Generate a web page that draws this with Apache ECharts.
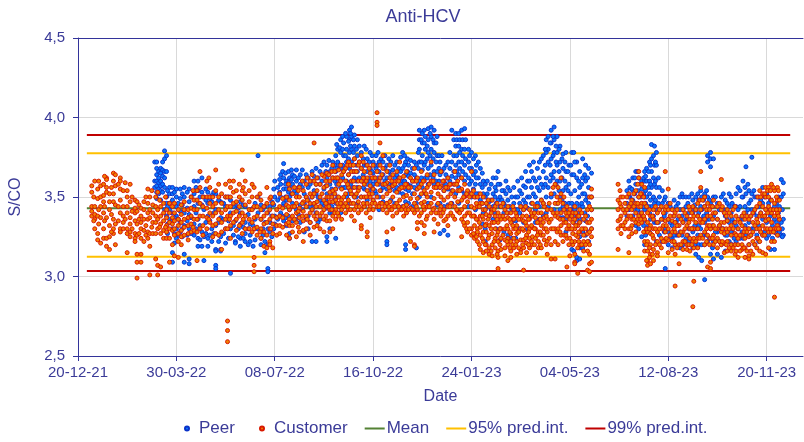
<!DOCTYPE html>
<html>
<head>
<meta charset="utf-8">
<script src="https://cdn.jsdelivr.net/npm/echarts@6/dist/echarts.min.js"></script>
<style>
  html, body { margin: 0; padding: 0; background: #fff; }
  #chart { width: 804px; height: 442px; }
</style>
</head>
<body>
<div id="chart"></div>
<script>
// x = days since 20-12-21, each row is [day, value, value, ...]
const tickDays = [0, 100, 200, 300, 400, 500, 600, 700];
const tickLabels = ['20-12-21', '30-03-22', '08-07-22', '16-10-22', '24-01-23', '04-05-23', '12-08-23', '20-11-23'];
const lineDays = [9, 724];
const meanValue = 3.43;
const pred95 = [3.125, 3.775];
const pred99 = [3.035, 3.89];

const peerColumns = [
  [78,3.72,3.56,3.6],[80,3.72,3.68,3.64,3.6,3.57,3.53,3.49],[82,3.66,3.62,3.59,3.55,3.52],[84,3.68,3.65,3.6,3.57,3.54,3.48],
  [86,3.72,3.67,3.63,3.58,3.53],[88,3.79,3.74,3.66,3.62,3.56,3.42],[90,3.76,3.66,3.5,3.46,3.38],[93,3.56,3.52,3.46,3.42,3.36],
  [96,3.56,3.52,3.48,3.4,3.35,3.3,3.15,3.09],[100,3.55,3.5,3.44,3.38,3.3,3.24],[104,3.55,3.49,3.41,3.34,3.28],[108,3.56,3.5,3.4,3.32,3.14,3.09],
  [113,3.55,3.47,3.39,3.3,3.11,3.08],[118,3.6,3.52,3.44,3.33,3.26],[122,3.6,3.54,3.46,3.36,3.24,3.19],[126,3.62,3.53,3.45,3.28,3.19],
  [128,3.5,3.42,3.25,3.1],[132,3.53,3.46,3.38,3.24,3.19],[136,3.51,3.47,3.3,3.22],[140,3.52,3.42,3.32,3.17,3.16,3.07,3.05],
  [145,3.47,3.37,3.25,3.17,3.16],[150,3.5,3.44,3.3,3.21],[155,3.48,3.4,3.3,3.02],[160,3.45,3.35,3.22,3.21],
  [165,3.47,3.4,3.33,3.24,3.19],[170,3.44,3.34,3.27,3.22],[175,3.42,3.33,3.26,3.22],[180,3.46,3.36,3.3,3.23],
  [183,3.76,3.5,3.4,3.3],[186,3.45,3.36,3.24,3.2],[190,3.44,3.34,3.22,3.15],[193,3.4,3.3,3.2,3.05,3.03],
  [197,3.47,3.38,3.25],[200,3.6,3.5,3.38,3.33],[203,3.56,3.48,3.36],[206,3.64,3.58,3.5,3.4],
  [209,3.71,3.62,3.55,3.46,3.35],[212,3.6,3.55,3.48,3.32],[215,3.62,3.56,3.5,3.42,3.27,3.24],[218,3.64,3.58,3.46,3.35],
  [222,3.67,3.6,3.52,3.42,3.36],[226,3.64,3.58,3.45,3.34],[230,3.6,3.52,3.46,3.28],[234,3.62,3.56,3.48,3.38,3.3],
  [238,3.66,3.6,3.5,3.42,3.22],[242,3.68,3.58,3.52,3.4,3.22],[246,3.66,3.58,3.48,3.36],[250,3.72,3.64,3.55,3.45],
  [253,3.7,3.62,3.52,3.43,3.25,3.22],[256,3.66,3.58,3.5,3.4,3.3],[259,3.72,3.62,3.52,3.4],[262,3.76,3.66,3.55,3.46,3.24],
  [264,3.8,3.72,3.62,3.5],[267,3.86,3.78,3.68,3.56,3.4],[270,3.84,3.76,3.66,3.56,3.45],[273,3.88,3.8,3.72,3.6,3.5],
  [276,3.92,3.86,3.78,3.68,3.55,3.46],[278,3.94,3.88,3.8,3.72,3.6,3.52],[281,3.89,3.82,3.74,3.62,3.5],[284,3.86,3.76,3.66,3.56,3.46],
  [288,3.78,3.68,3.6,3.5],[291,3.82,3.7,3.62,3.55,3.44],[294,3.74,3.66,3.58,3.48],[297,3.78,3.68,3.6,3.52],
  [300,3.72,3.65,3.58,3.48],[303,3.76,3.68,3.6,3.52],[306,3.72,3.66,3.58,3.5,3.42],[310,3.72,3.64,3.56,3.47],
  [314,3.7,3.62,3.55,3.46,3.22,3.2],[318,3.72,3.64,3.56,3.48],[322,3.7,3.62,3.54,3.46],[326,3.68,3.62,3.53,3.44],
  [330,3.78,3.68,3.6,3.52,3.44],[333,3.72,3.64,3.55,3.47,3.2,3.17],[336,3.7,3.63,3.54,3.46],[340,3.68,3.6,3.52,3.44],
  [344,3.7,3.62,3.55,3.46,3.18],[347,3.92,3.86,3.8,3.72,3.6,3.5],[350,3.9,3.84,3.76,3.67,3.56],[353,3.88,3.8,3.72,3.62,3.52],
  [356,3.93,3.86,3.78,3.68,3.58,3.46],[359,3.94,3.88,3.8,3.7,3.6,3.5],[362,3.92,3.84,3.78,3.66,3.58],[365,3.88,3.76,3.66,3.56,3.45],
  [368,3.72,3.64,3.56,3.46,3.27],[372,3.68,3.6,3.54,3.44,3.29],[376,3.72,3.62,3.55,3.45,3.26],[380,3.92,3.72,3.63,3.54,3.46],
  [384,3.9,3.82,3.7,3.62,3.52],[387,3.9,3.82,3.72,3.64,3.56,3.46],[390,3.92,3.8,3.72,3.62,3.54],[393,3.93,3.8,3.7,3.6,3.52],
  [397,3.8,3.72,3.62,3.53,3.44],[400,3.78,3.68,3.6,3.5],[404,3.76,3.66,3.58,3.5,3.42],[407,3.72,3.62,3.52,3.44],
  [411,3.65,3.56,3.46,3.33],[414,3.58,3.5,3.42,3.3,3.22],[418,3.55,3.47,3.38],[422,3.62,3.52,3.44,3.36],
  [425,3.62,3.54,3.46,3.3],[429,3.58,3.5,3.44,3.3,3.23],[433,3.54,3.46,3.4,3.28],[437,3.56,3.48,3.4,3.26,3.24],
  [441,3.5,3.42,3.34,3.24],[445,3.5,3.42,3.35,3.24],[449,3.54,3.46,3.4,3.3],[453,3.57,3.48,3.42,3.34],
  [457,3.6,3.5,3.43,3.3],[461,3.66,3.56,3.46,3.38],[465,3.6,3.5,3.42,3.34],[469,3.72,3.62,3.54,3.44,3.36],
  [473,3.76,3.66,3.56,3.46,3.38],[476,3.86,3.78,3.62,3.5,3.4],[478,3.88,3.8,3.72,3.56,3.44],[481,3.92,3.84,3.74,3.64,3.5],
  [484,3.94,3.86,3.78,3.66,3.52,3.42],[487,3.88,3.78,3.7,3.6,3.46],[490,3.82,3.72,3.6,3.5,3.42,3.37],[493,3.77,3.68,3.54,3.44,3.37],
  [496,3.78,3.66,3.56,3.42,3.36,3.28],[499,3.7,3.58,3.46,3.38,3.3],[502,3.78,3.64,3.46,3.38,3.17],[504,3.78,3.64,3.44,3.38,3.34,3.16],
  [507,3.72,3.62,3.46,3.36,3.32,3.1,3.12],[510,3.66,3.56,3.44,3.34,3.25,3.18,3.11],[513,3.74,3.62,3.52,3.44,3.28,3.18],[516,3.7,3.6,3.48,3.35,3.26],
  [519,3.68,3.56,3.46,3.28,3.22],[522,3.65,3.5,3.42,3.3],[558,3.54,3.46,3.38],[561,3.56,3.5,3.44],
  [564,3.62,3.54,3.48,3.38],[567,3.66,3.58,3.46,3.32],[570,3.62,3.5,3.44,3.3],[573,3.6,3.55,3.46,3.38,3.25],
  [576,3.66,3.6,3.5,3.42,3.35,3.2],[578,3.68,3.6,3.5,3.44,3.3],[581,3.72,3.6,3.52,3.4,3.28],[583,3.83,3.74,3.66,3.56,3.44],
  [586,3.82,3.7,3.58,3.46,3.34],[588,3.78,3.7,3.56,3.42,3.34,3.22],[591,3.56,3.5,3.42,3.26],[594,3.54,3.46,3.36,3.22],
  [597,3.5,3.4,3.3,3.05,3.23],[600,3.46,3.36,3.28,3.2],[604,3.42,3.32,3.24,3.18],[608,3.44,3.34,3.26,3.2],
  [612,3.5,3.42,3.28,3.18],[615,3.5,3.42,3.34,3.2],[618,3.5,3.44,3.36,3.24],[621,3.5,3.4,3.3,3.22],
  [625,3.48,3.4,3.28,3.18],[628,3.5,3.42,3.3,3.14],[631,3.48,3.4,3.32,3.2,3.12],[634,3.5,3.42,3.36,3.2,3.1],
  [637,3.52,3.44,3.34,3.2,2.98],[640,3.76,3.72,3.5,3.36,3.22],[643,3.78,3.74,3.69,3.46,3.3,3.14],[646,3.74,3.5,3.38,3.22,3.11],
  [650,3.46,3.36,3.28,3.14],[654,3.5,3.42,3.3,3.2,3.12],[658,3.48,3.38,3.26,3.16],[662,3.52,3.44,3.34,3.22],
  [665,3.46,3.36,3.28,3.2],[669,3.52,3.44,3.32,3.22],[673,3.54,3.44,3.36,3.24],[676,3.6,3.5,3.36,3.24],
  [679,3.69,3.52,3.4,3.26],[682,3.54,3.46,3.34,3.2],[685,3.75,3.52,3.42,3.3],[688,3.5,3.42,3.3,3.2],
  [692,3.5,3.44,3.32,3.22],[696,3.56,3.46,3.36,3.26],[700,3.52,3.42,3.34,3.24],[704,3.48,3.38,3.3,3.17],
  [708,3.44,3.36,3.28,3.17],[712,3.5,3.4,3.32,3.26],[715,3.61,3.5,3.34,3.26],[717,3.59,3.52,3.36,3.26],
  // second pass, the gaps between the rows above
  [91,3.54,3.44,3.33,3.27],[98,3.53,3.37,3.27,3.21],[102,3.46,3.36,3.26],[106,3.52,3.45,3.3,3.25],[111,3.53,3.43,3.35,3.26],[115,3.5,3.37,3.27],
  [120,3.56,3.4,3.3],[124,3.5,3.32,3.23],[130,3.55,3.48,3.34,3.27],[134,3.49,3.35,3.26],[138,3.53,3.4,3.27],[143,3.48,3.34,3.22],
  [148,3.46,3.36,3.27],[153,3.5,3.35,3.24],[158,3.44,3.32,3.26],[163,3.43,3.3,3.25],[168,3.45,3.31,3.24],[173,3.39,3.3,3.2],
  [178,3.43,3.32,3.19],[188,3.42,3.3,3.26],[195,3.44,3.34,3.28],[199,3.55,3.45,3.3],[205,3.61,3.53,3.38],[208,3.66,3.44,3.38],
  [211,3.65,3.58,3.5,3.37],[214,3.66,3.59,3.53,3.38],[217,3.67,3.61,3.52],[220,3.63,3.54,3.44],[224,3.62,3.56,3.39],[228,3.67,3.56,3.42],
  [232,3.64,3.5,3.36],[236,3.58,3.44,3.34],[240,3.63,3.54,3.45],[244,3.62,3.5,3.34],[248,3.7,3.6,3.46],[252,3.66,3.57,3.48],
  [255,3.73,3.64,3.46],[258,3.68,3.55,3.44],[261,3.7,3.6,3.48],[263,3.83,3.68,3.58],[266,3.81,3.7,3.6],[269,3.88,3.8,3.7,3.62],
  [272,3.9,3.76,3.68,3.56],[275,3.85,3.74,3.64,3.52],[277,3.9,3.82,3.7,3.58],[280,3.86,3.78,3.66,3.56],[283,3.8,3.7,3.6,3.5],[286,3.82,3.72,3.62],
  [290,3.74,3.64,3.56],[293,3.8,3.7,3.6],[296,3.72,3.62,3.54],[299,3.76,3.66,3.56],[302,3.7,3.62,3.54],[305,3.78,3.7,3.62],
  [308,3.74,3.62,3.54],[312,3.76,3.68,3.6],[316,3.74,3.66,3.58],[320,3.76,3.67,3.58],[324,3.72,3.64,3.56],[328,3.75,3.66,3.58],
  [332,3.76,3.7,3.6],[335,3.74,3.66,3.58],[338,3.73,3.65,3.57],[342,3.72,3.64,3.56],[346,3.78,3.68,3.58],[349,3.86,3.72,3.62],
  [352,3.92,3.84,3.7],[355,3.82,3.74,3.62],[358,3.9,3.76,3.64],[361,3.86,3.74,3.62],[364,3.84,3.72,3.6],[367,3.76,3.68,3.6],
  [370,3.76,3.66,3.57],[374,3.7,3.64,3.58],[378,3.78,3.68,3.6],[382,3.86,3.76,3.66,3.58],[385,3.86,3.76,3.66],[388,3.86,3.78,3.68],
  [391,3.86,3.76,3.66],[394,3.86,3.74,3.64],[398,3.76,3.68,3.58],[402,3.74,3.64,3.55],[405,3.7,3.62,3.52],[409,3.68,3.58,3.48],
  [412,3.6,3.52,3.4],[416,3.6,3.52,3.44],[420,3.58,3.48,3.42],[424,3.56,3.5,3.4],[427,3.66,3.58,3.48],[431,3.54,3.48,3.38],
  [435,3.6,3.52,3.44],[439,3.54,3.44,3.36],[443,3.56,3.46,3.36],[447,3.6,3.5,3.42],[451,3.62,3.52,3.44],[455,3.66,3.56,3.46],
  [459,3.7,3.6,3.5],[463,3.72,3.62,3.52],[467,3.68,3.56,3.46],[471,3.74,3.58,3.48],[475,3.8,3.7,3.58],[480,3.84,3.7,3.6],
  [483,3.88,3.76,3.62],[486,3.82,3.72,3.58],[489,3.8,3.66,3.54],[492,3.74,3.62,3.48],[495,3.72,3.6,3.46],[498,3.66,3.54,3.42],
  [501,3.7,3.52,3.42],[505,3.72,3.54,3.42],[509,3.6,3.5,3.4],[512,3.58,3.46,3.36],[515,3.64,3.52,3.4],[518,3.62,3.5,3.38],
  [560,3.6,3.5,3.42],[563,3.55,3.45],[566,3.62,3.52,3.42],[569,3.66,3.54,3.42],[572,3.58,3.5,3.4],[575,3.62,3.52,3.44,3.32],
  [577,3.63,3.54,3.46,3.26],[580,3.66,3.56,3.44,3.32],[582,3.7,3.58,3.48,3.36],[585,3.76,3.62,3.5,3.38],[587,3.72,3.6,3.48],[590,3.62,3.46,3.34],
  [596,3.48,3.38,3.28],[602,3.44,3.34,3.24],[606,3.48,3.38,3.26],[610,3.46,3.36,3.26],[614,3.52,3.38,3.26],[620,3.46,3.36,3.26],
  [624,3.52,3.42,3.3],[627,3.45,3.32,3.2],[630,3.52,3.38,3.26],[633,3.54,3.44,3.3],[636,3.48,3.38,3.26],[639,3.54,3.4,3.26],
  [642,3.48,3.36,3.24],[645,3.44,3.32,3.18],[648,3.5,3.4,3.28],[652,3.42,3.32,3.22],[656,3.52,3.42,3.3],[660,3.46,3.36,3.26],
  [664,3.5,3.4,3.28],[667,3.44,3.34,3.24],[671,3.56,3.42,3.3],[675,3.5,3.38,3.28],[678,3.56,3.44,3.32],[681,3.58,3.42,3.3],
  [684,3.48,3.38,3.26],[687,3.54,3.4,3.3],[690,3.5,3.38,3.26],[694,3.48,3.4,3.28],[698,3.5,3.38,3.28],[702,3.46,3.36,3.26],
  [706,3.42,3.32,3.24],[710,3.46,3.34,3.27],[713,3.44,3.36,3.28],[716,3.42,3.3,3.25]
];

const customerColumns = [
  [14,3.57,3.53,3.44,3.41,3.38],[17,3.6,3.44,3.39,3.36,3.3],[20,3.55,3.49,3.38,3.27,3.23],[23,3.57,3.5,3.44,3.37,3.21],
  [26,3.58,3.51,3.47,3.4,3.3,3.24],[29,3.62,3.61,3.56,3.53,3.37,3.24,3.19],[32,3.52,3.47,3.42,3.32,3.25,3.17],[36,3.65,3.6,3.52,3.47,3.36,3.3,3.27],
  [38,3.64,3.57,3.45,3.33,3.2],[43,3.62,3.6,3.55,3.48,3.4,3.3,3.28],[46,3.54,3.44,3.38,3.34,3.3],[50,3.54,3.5,3.44,3.4,3.3,3.27,3.15],
  [53,3.58,3.47,3.37,3.33,3.28,3.25],[58,3.48,3.43,3.4,3.35,3.27,3.24,3.22],[60,3.47,3.41,3.33,3.26,3.14,3.09,2.99],[64,3.43,3.38,3.34,3.3,3.24,3.14,3.09],
  [67,3.47,3.42,3.36,3.29,3.22],[71,3.55,3.46,3.4,3.36,3.28,3.24],[73,3.5,3.42,3.37,3.27,3.19,3.01],[76,3.45,3.4,3.34,3.27],
  [79,3.5,3.44,3.38,3.34,3.27,3.11],[81,3.53,3.42,3.36,3.3,3.07,3.01],[84,3.44,3.38,3.33,3.27,3.06],[87,3.46,3.4,3.35,3.29,3.24],
  [90,3.42,3.37,3.32,3.28,3.24],[93,3.46,3.4,3.34,3.3,3.24,3.09],[96,3.44,3.37,3.33,3.29,3.2],[98,3.46,3.4,3.35,3.3,3.26,3.13],
  [102,3.42,3.36,3.32,3.27,3.22,3.12],[105,3.45,3.39,3.34,3.29,3.25,3.2],[108,3.47,3.42,3.36,3.31,3.26],[112,3.42,3.37,3.32,3.27,3.23],
  [115,3.5,3.43,3.38,3.33,3.28],[118,3.48,3.42,3.36,3.29],[121,3.54,3.48,3.42,3.36,3.28,3.1],[124,3.66,3.56,3.46,3.38,3.3],
  [127,3.5,3.44,3.38,3.32,3.26],[131,3.6,3.5,3.43,3.37,3.3],[134,3.56,3.5,3.46,3.4,3.34],[137,3.5,3.44,3.38,3.32,3.25],
  [140,3.67,3.54,3.46,3.4,3.33,3.27],[143,3.58,3.5,3.42,3.36,3.26],[146,3.52,3.46,3.4,3.34,3.28,3.17],[150,3.58,3.5,3.42,3.36,3.3],
  [152,3.5,3.44,3.38,3.3,2.72,2.66,2.59],[155,3.56,3.5,3.44,3.38,3.32,3.24],[158,3.6,3.53,3.46,3.4,3.34],[161,3.54,3.47,3.41,3.36,3.29],
  [164,3.58,3.5,3.44,3.38,3.32],[167,3.67,3.54,3.48,3.4,3.34,3.27],[170,3.6,3.52,3.45,3.38,3.3],[174,3.54,3.47,3.42,3.36,3.3],
  [177,3.58,3.5,3.42,3.34,3.28],[179,3.56,3.44,3.37,3.3,3.12,3.07,3.03],[182,3.5,3.44,3.38,3.31,3.26],[186,3.48,3.42,3.36,3.3,3.24],
  [189,3.44,3.38,3.33,3.28,3.19],[192,3.56,3.46,3.4,3.34,3.26,3.18],[195,3.49,3.42,3.36,3.3,3.22,3.2],[198,3.46,3.38,3.33,3.27,3.18],
  [202,3.42,3.37,3.32,3.26],[205,3.52,3.44,3.38,3.32,3.27],[208,3.49,3.43,3.37,3.31],[212,3.5,3.45,3.39,3.33,3.26],
  [215,3.55,3.48,3.42,3.36,3.32,3.24],[218,3.52,3.44,3.38,3.32,3.28],[222,3.5,3.46,3.4,3.34,3.25],[225,3.56,3.5,3.43,3.37,3.28],
  [229,3.54,3.47,3.41,3.35,3.29,3.22],[232,3.58,3.5,3.44,3.38,3.3],[236,3.6,3.52,3.46,3.4,3.34,3.26],[240,3.84,3.6,3.52,3.46,3.38,3.31],
  [243,3.62,3.54,3.47,3.4,3.32],[246,3.58,3.5,3.44,3.38,3.3],[250,3.63,3.56,3.48,3.42,3.36,3.28],[253,3.65,3.57,3.5,3.44,3.35],
  [256,3.6,3.53,3.47,3.42,3.35,3.28],[259,3.7,3.62,3.54,3.47,3.38,3.3],[262,3.62,3.55,3.48,3.42,3.36],[265,3.67,3.58,3.5,3.44,3.38],
  [268,3.64,3.55,3.48,3.42,3.36],[272,3.68,3.6,3.52,3.46,3.4],[275,3.72,3.64,3.56,3.48,3.42],[278,3.66,3.6,3.52,3.46,3.38],
  [281,3.74,3.66,3.56,3.5,3.42,3.35],[285,3.7,3.6,3.54,3.47,3.4],[288,3.76,3.68,3.6,3.5,3.42,3.32,3.3],[291,3.66,3.58,3.5,3.44],
  [294,3.7,3.62,3.54,3.46,3.28,3.25],[297,3.65,3.57,3.5,3.44,3.37],[300,3.7,3.62,3.55,3.48,3.42],[304,4.03,3.97,3.95,3.66,3.58,3.5,3.44],
  [307,3.84,3.7,3.62,3.54,3.46],[310,3.76,3.68,3.58,3.5,3.42],[314,3.66,3.59,3.52,3.46,3.4,3.28],[317,3.7,3.62,3.54,3.47,3.42],
  [320,3.64,3.57,3.5,3.44,3.38,3.3],[324,3.66,3.6,3.53,3.46,3.4],[327,3.72,3.62,3.55,3.48,3.42],[331,3.63,3.56,3.5,3.44,3.38],
  [334,3.66,3.58,3.51,3.45,3.4],[338,3.62,3.56,3.49,3.43,3.22],[342,3.68,3.6,3.52,3.46,3.4,3.2,3.19],[345,3.62,3.55,3.49,3.42,3.34,3.3],
  [349,3.66,3.58,3.52,3.46,3.4,3.34],[352,3.6,3.54,3.47,3.42,3.32,3.27],[355,3.64,3.56,3.5,3.44,3.38],[359,3.72,3.6,3.53,3.46,3.4],
  [362,3.64,3.56,3.49,3.43,3.36,3.28],[366,3.58,3.52,3.46,3.4,3.33],[369,3.66,3.57,3.5,3.44,3.38],[372,3.6,3.54,3.48,3.42,3.35],
  [376,3.62,3.56,3.5,3.44,3.38,3.32],[379,3.58,3.52,3.46,3.4],[383,3.66,3.58,3.5,3.44,3.36],[386,3.6,3.54,3.47,3.41],
  [390,3.62,3.55,3.48,3.42,3.36,3.25],[393,3.58,3.5,3.44,3.38,3.32],[396,3.54,3.47,3.4,3.34,3.28],[400,3.66,3.52,3.44,3.38,3.3,3.26],
  [403,3.5,3.43,3.38,3.32,3.26,3.24],[406,3.5,3.44,3.36,3.3,3.28,3.22],[409,3.52,3.46,3.38,3.31,3.26,3.17],[412,3.5,3.42,3.36,3.28,3.22,3.15],
  [415,3.46,3.39,3.33,3.28,3.2,3.16],[418,3.44,3.38,3.32,3.26,3.18,3.14],[421,3.48,3.42,3.34,3.27,3.2,3.13],[424,3.44,3.38,3.3,3.24,3.18],
  [427,3.4,3.34,3.28,3.22,3.16,3.12,3.05],[430,3.44,3.36,3.3,3.24,3.17],[434,3.42,3.36,3.3,3.23,3.18,3.13],[437,3.44,3.37,3.3,3.24,3.2,3.1],
  [440,3.4,3.34,3.27,3.22,3.16,3.12],[443,3.42,3.36,3.3,3.24,3.18],[446,3.38,3.32,3.27,3.22,3.14],[450,3.44,3.36,3.3,3.23,3.17,3.15],
  [453,3.42,3.35,3.29,3.23,3.18,3.04],[456,3.38,3.32,3.26,3.21,3.15],[459,3.42,3.36,3.3,3.24,3.18],[462,3.46,3.38,3.31,3.25,3.2],
  [465,3.44,3.37,3.3,3.24,3.15],[468,3.4,3.34,3.28,3.22,3.18],[471,3.48,3.4,3.32,3.26,3.18],[474,3.44,3.37,3.3,3.23],
  [477,3.42,3.36,3.28,3.22,3.14],[481,3.52,3.42,3.36,3.3,3.2,3.11],[485,3.58,3.46,3.38,3.3,3.22,3.11],[488,3.56,3.46,3.37,3.3,3.2],
  [491,3.62,3.52,3.4,3.32,3.26],[494,3.5,3.42,3.34,3.26],[497,3.44,3.38,3.3,3.24,3.06],[500,3.42,3.36,3.3,3.24,3.13],
  [503,3.4,3.34,3.27,3.2],[505,3.44,3.36,3.3,3.22,3.14,3.09,3.08],[508,3.38,3.32,3.25,3.18,3.02],[510,3.42,3.34,3.28,3.2],
  [514,3.36,3.3,3.26,3.22,3.16],[518,3.42,3.34,3.27,3.22,3.16,3.04],[520,3.5,3.44,3.34,3.28,3.2,3.14,3.03,3.08],[522,3.55,3.5,3.42,3.36,3.3,3.25,3.09],
  [549,3.58,3.48,3.42,3.35,3.3,3.17],[552,3.5,3.44,3.38,3.32,3.27],[556,3.46,3.4,3.34,3.3],[560,3.52,3.44,3.38,3.3,3.25,3.15],
  [563,3.48,3.42,3.36,3.32,3.27],[567,3.54,3.46,3.4,3.34,3.28],[570,3.66,3.62,3.5,3.44,3.38,3.33],[573,3.58,3.52,3.46,3.4,3.34],
  [576,3.56,3.46,3.36,3.28,3.22,3.16],[579,3.4,3.34,3.28,3.22,3.16,3.1,3.07],[582,3.38,3.32,3.27,3.2,3.14,3.08],[585,3.42,3.36,3.3,3.24,3.17,3.1],
  [589,3.4,3.34,3.28,3.22,3.15,3.13],[593,3.44,3.36,3.3,3.24,3.18],[597,3.66,3.42,3.35,3.28,3.22],[600,3.55,3.42,3.36,3.3,3.23,3.15],
  [604,3.42,3.35,3.28,3.22,3.17],[607,3.4,3.34,3.28,3.2,3.14,2.94],[611,3.38,3.32,3.26,3.2,3.08],[615,3.42,3.34,3.28,3.22,3.17],
  [619,3.38,3.32,3.26,3.2,3.17],[622,3.42,3.36,3.3,3.24,3.16],[625,3.44,3.36,3.3,3.22,2.81],[626,3.38,3.3,3.24,3.18,2.97],
  [630,3.46,3.38,3.3,3.24,3.18],[633,3.66,3.56,3.42,3.34,3.26],[637,3.5,3.44,3.36,3.28,3.2],[640,3.46,3.38,3.32,3.26,3.06],
  [643,3.44,3.38,3.3,3.24,3.09,3.05],[646,3.48,3.4,3.32,3.26,3.2],[650,3.44,3.36,3.3,3.24,3.18],[654,3.61,3.42,3.34,3.28,3.2],
  [657,3.4,3.34,3.27,3.21,3.15],[660,3.42,3.35,3.28,3.22,3.16],[664,3.38,3.32,3.26,3.2,3.16],[668,3.44,3.34,3.27,3.2,3.14],
  [671,3.36,3.3,3.24,3.2,3.12],[675,3.38,3.32,3.26,3.2,3.17],[678,3.36,3.3,3.24,3.18,3.12],[682,3.36,3.3,3.25,3.2,3.13,3.11],
  [686,3.4,3.34,3.28,3.22,3.14],[690,3.44,3.36,3.3,3.24,3.18],[693,3.54,3.46,3.38,3.3,3.22,3.16],[696,3.52,3.44,3.38,3.32,3.26,3.15],
  [699,3.56,3.5,3.42,3.35,3.3,3.14],[702,3.56,3.5,3.44,3.36,3.28,3.18],[705,3.58,3.48,3.4,3.34,3.28,3.22],[708,3.54,3.46,3.38,3.3,3.22,2.87],
  [711,3.56,3.48,3.4,3.32,3.26],[713,3.48,3.42,3.36,3.3],
  // second pass
  [16,3.5,3.35],[21,3.6,3.42,3.33],[27,3.63,3.44,3.35],[34,3.56,3.39,3.28],[41,3.58,3.44,3.35],[48,3.59,3.36],
  [55,3.5,3.41,3.3],[62,3.45,3.36,3.27],[69,3.5,3.32,3.26],[75,3.54,3.31],[83,3.48,3.31],[89,3.5,3.31],
  [117,3.54,3.31],[133,3.62,3.36],[154,3.6,3.36],[168,3.56,3.36],[185,3.52,3.28],[196,3.5,3.3],
  [214,3.58,3.44,3.34],[220,3.56,3.44,3.36],[224,3.54,3.41,3.31],[228,3.6,3.46,3.38],[233,3.62,3.48,3.36],[238,3.64,3.5,3.42],
  [242,3.58,3.44,3.36],[248,3.64,3.52,3.4],[252,3.6,3.46,3.38],[255,3.64,3.5,3.44],[258,3.66,3.5,3.42],[261,3.66,3.52,3.4],
  [264,3.62,3.46,3.4],[267,3.7,3.6,3.46],[270,3.66,3.5,3.44],[274,3.7,3.58,3.44],[277,3.7,3.54,3.42],[280,3.7,3.6,3.46],
  [283,3.66,3.52,3.44],[286,3.72,3.56,3.44],[290,3.72,3.62,3.46],[293,3.6,3.5,3.4],[296,3.68,3.52,3.42],[299,3.62,3.52,3.46],
  [302,3.62,3.46],[306,3.6,3.44],[309,3.64,3.46],[312,3.58,3.44],[316,3.56,3.44],[319,3.6,3.42],
  [322,3.58,3.44],[326,3.6,3.44],[329,3.56,3.42],[333,3.58,3.42],[336,3.56,3.42],[340,3.6,3.42],
  [344,3.6,3.44],[347,3.56,3.38],[351,3.6,3.44],[354,3.52,3.36],[357,3.58,3.44],[361,3.6,3.42],
  [364,3.56,3.4],[368,3.56,3.42],[371,3.6,3.4],[374,3.56,3.36],[378,3.58,3.44],[381,3.54,3.38],
  [385,3.58,3.42],[388,3.54,3.4],[392,3.5,3.34],[395,3.52,3.3],[398,3.5,3.4,3.3],[402,3.54,3.38,3.27],
  [405,3.46,3.36,3.25],[408,3.44,3.34,3.2],[411,3.46,3.38,3.24],[414,3.42,3.32,3.2],[417,3.48,3.36,3.24],[420,3.4,3.3,3.16],
  [423,3.42,3.34,3.22],[426,3.46,3.36,3.26,3.14],[429,3.38,3.3,3.2],[432,3.46,3.38,3.26],[436,3.4,3.32,3.22],[439,3.36,3.28,3.18],
  [442,3.44,3.32,3.2],[445,3.4,3.3,3.2],[448,3.36,3.28,3.18],[452,3.38,3.3,3.2],[455,3.44,3.34,3.24],[458,3.36,3.28,3.2],
  [461,3.4,3.32,3.22],[464,3.4,3.3,3.2],[467,3.44,3.34,3.26],[470,3.36,3.28,3.2],[473,3.46,3.34,3.26],[476,3.38,3.3,3.2],
  [479,3.46,3.34,3.24],[483,3.56,3.4,3.3],[487,3.5,3.4,3.28],[490,3.48,3.36,3.28],[493,3.46,3.36,3.22],[496,3.4,3.34,3.26],
  [499,3.4,3.32,3.2],[502,3.38,3.3,3.22],[506,3.4,3.32,3.26],[509,3.38,3.28,3.22],[512,3.4,3.3,3.2],[516,3.38,3.3,3.2],
  [551,3.54,3.46,3.36],[554,3.5,3.42,3.32],[558,3.5,3.42,3.36],[562,3.46,3.38,3.3],[565,3.52,3.44,3.36],[569,3.58,3.46,3.36],
  [572,3.52,3.44,3.36],[575,3.5,3.38,3.28],[578,3.44,3.3,3.2,3.1],[581,3.42,3.3,3.18,3.12],[584,3.38,3.26,3.14],[587,3.44,3.3,3.2],
  [591,3.42,3.3,3.2],[595,3.4,3.32,3.22],[598,3.44,3.32,3.24],[602,3.46,3.38,3.26],[606,3.38,3.3,3.22],[609,3.42,3.32,3.18],
  [613,3.36,3.28,3.2],[617,3.4,3.3,3.22],[621,3.44,3.34,3.2],[624,3.4,3.3,3.2],[628,3.42,3.34,3.22],[632,3.48,3.36,3.24],
  [635,3.48,3.34,3.24],[639,3.42,3.3,3.22],[642,3.42,3.32,3.2],[645,3.44,3.36,3.24],[648,3.4,3.3,3.22],[652,3.46,3.32,3.22],
  [655,3.44,3.3,3.22],[659,3.38,3.3,3.2],[662,3.4,3.3,3.18],[666,3.42,3.3,3.18],[669,3.38,3.26,3.16],[673,3.34,3.26,3.16],
  [677,3.4,3.28,3.18],[680,3.38,3.28,3.16],[684,3.38,3.26,3.16],[688,3.42,3.32,3.2],[691,3.5,3.34,3.24],[694,3.5,3.4,3.28],
  [698,3.52,3.38,3.26],[701,3.54,3.4,3.3],[704,3.54,3.42,3.3],[707,3.56,3.42,3.28],[710,3.5,3.42,3.3],[712,3.54,3.38,3.3]
];

function toPoints (columns) {
  const points = [];
  columns.forEach(function (col) {
    for (let i = 1; i < col.length; i++) {
      points.push([col[0], col[i]]);
    }
  });
  return points;
}

function flatLine (value) {
  return lineDays.map(function (d) { return [d, value]; });
}

const textColor = '#3b3b98';
const axisColor = '#33339a';
const fontName = '"Liberation Sans", Arial, sans-serif';
// thin bar in a box as high as the legend row
const lineIcon = 'path://M0,0L0.01,0M0,1H20V3H0ZM20,4L19.99,4';

const myChart = echarts.init(document.getElementById('chart'));

function lineSeries (name, value, color) {
  return {
    name: name,
    type: 'line',
    data: flatLine(value),
    symbol: 'none',
    silent: true,
    lineStyle: { color: color, width: 2 },
    itemStyle: { color: color },
    z: 1
  };
}

// Peer sits further from the rest of the legend than one itemGap allows, so it gets its own
function legendBlock (left, items) {
  return {
    left: left,
    top: 420,
    itemWidth: 20,
    itemHeight: 4,
    itemGap: 17,
    padding: 0,
    textStyle: { color: textColor, fontSize: 17, fontFamily: fontName, padding: [0, 0, 0, -3] },
    data: items
  };
}

const option = {
  animation: false,
  title: {
    text: 'Anti-HCV',
    left: 418,
    top: 3,
    textAlign: 'center',
    textStyle: { color: textColor, fontSize: 18, fontWeight: 'normal', fontFamily: fontName }
  },
  grid: { left: 78, right: 1, top: 38, bottom: 86, outerBoundsMode: 'none' },
  legend: [
    legendBlock(184, [{ name: 'Peer', icon: 'circle' }]),
    legendBlock(259, [
      { name: 'Customer', icon: 'circle' },
      { name: 'Mean', icon: lineIcon },
      { name: '95% pred.int.', icon: lineIcon },
      { name: '99% pred.int.', icon: lineIcon }
    ])
  ],
  xAxis: [
    {
      type: 'value',
      min: 0,
      max: 737,
      name: 'Date',
      nameLocation: 'middle',
      nameGap: 33,
      nameTextStyle: { color: textColor, fontSize: 16, fontFamily: fontName },
      axisLine: { onZero: false, lineStyle: { color: axisColor } },
      axisTick: { length: 5, customValues: tickDays, lineStyle: { color: axisColor } },
      axisLabel: {
        customValues: tickDays,
        color: textColor,
        fontSize: 15,
        fontFamily: fontName,
        margin: 9,
        formatter: function (value) { return tickLabels[tickDays.indexOf(value)]; }
      },
      splitLine: { show: true, lineStyle: { color: '#d9d9d9' } }
    },
    {
      type: 'value',
      min: 0,
      max: 737,
      position: 'top',
      axisLine: { show: true, onZero: false, lineStyle: { color: axisColor } },
      axisTick: { show: false },
      axisLabel: { show: false },
      splitLine: { show: false }
    }
  ],
  yAxis: {
    type: 'value',
    min: 2.5,
    max: 4.5,
    interval: 0.5,
    name: 'S/CO',
    nameLocation: 'middle',
    nameGap: 54,
    nameTextStyle: { color: textColor, fontSize: 16, fontFamily: fontName },
    axisLine: { show: true, lineStyle: { color: axisColor } },
    axisTick: { show: true, length: 5, lineStyle: { color: axisColor } },
    axisLabel: {
      color: textColor,
      fontSize: 15,
      fontFamily: fontName,
      margin: 13,
      formatter: function (value) { return value.toFixed(1).replace('.', ','); }
    },
    splitLine: { show: true, lineStyle: { color: '#d9d9d9' } }
  },
  series: [
    lineSeries('Mean', meanValue, '#548235'),
    lineSeries('95% pred.int.', pred95[0], '#ffc000'),
    lineSeries('95% pred.int.', pred95[1], '#ffc000'),
    lineSeries('99% pred.int.', pred99[0], '#c00000'),
    lineSeries('99% pred.int.', pred99[1], '#c00000'),
    {
      name: 'Peer',
      type: 'scatter',
      data: toPoints(peerColumns),
      symbolSize: 4,
      itemStyle: { color: '#0a78ff', borderColor: '#0a32c8', borderWidth: 1, opacity: 1 },
      z: 2
    },
    {
      name: 'Customer',
      type: 'scatter',
      data: toPoints(customerColumns),
      symbolSize: 4,
      itemStyle: { color: '#f08000', borderColor: '#d81800', borderWidth: 1, opacity: 1 },
      z: 3
    }
  ]
};

myChart.setOption(option);
</script>
</body>
</html>
